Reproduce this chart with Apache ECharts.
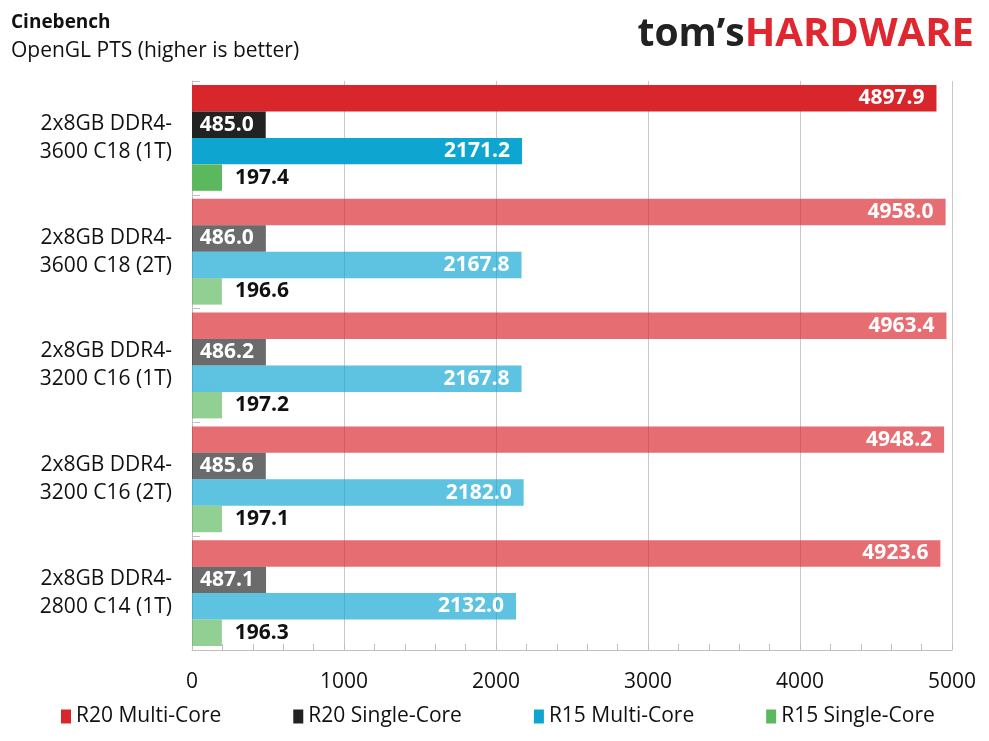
<!DOCTYPE html>
<html>
<head>
<meta charset="utf-8">
<script src="https://cdn.jsdelivr.net/npm/echarts@6/dist/echarts.min.js"></script>
<style>html,body{margin:0;padding:0;background:#fff}#c{width:989px;height:741px}</style>
</head>
<body>
<div id="c"></div>
<script>
const categories = [
  "2x8GB DDR4-\n3600 C18 (1T)",
  "2x8GB DDR4-\n3600 C18 (2T)",
  "2x8GB DDR4-\n3200 C16 (1T)",
  "2x8GB DDR4-\n3200 C16 (2T)",
  "2x8GB DDR4-\n2800 C14 (1T)"
];
const seriesNames = ["R20 Multi-Core", "R20 Single-Core", "R15 Multi-Core", "R15 Single-Core"];
const r20Multi = [4897.9, 4958.0, 4963.4, 4948.2, 4923.6];
const r20Single = [485.0, 486.0, 486.2, 485.6, 487.1];
const r15Multi = [2171.2, 2167.8, 2167.8, 2182.0, 2132.0];
const r15Single = [197.4, 196.6, 197.2, 197.1, 196.3];
const xTicks = [0, 1000, 2000, 3000, 4000, 5000];

const colors = ["#D9262B", "#222222", "#0EA5D1", "#5CB85C"];
const FONT = "Open Sans";

function mkData(arr) {
  return arr.map((v, i) => ({
    value: v,
    itemStyle: { opacity: i === 0 ? 1 : 0.67 },
    label: { opacity: 1 }
  }));
}
function mkSeries(name, arr, color, inside) {
  return {
    name: name,
    type: "bar",
    data: mkData(arr),
    barGap: "0%",
    barCategoryGap: "7%",
    itemStyle: { color: color },
    label: {
      show: true,
      opacity: 1,
      position: inside ? "insideRight" : "right",
      distance: inside ? 12 : 13,
      color: inside ? "#ffffff" : "#111111",
      fontFamily: FONT,
      fontWeight: "bold",
      fontSize: 21,
      formatter: p => p.value.toFixed(1)
    }
  };
}

const chart = echarts.init(document.getElementById("c"));
chart.setOption({
  backgroundColor: "#ffffff",
  animation: false,
  title: [
    {
      text: "Cinebench",
      subtext: "OpenGL PTS (higher is better)",
      left: 6, top: 8,
      itemGap: 9,
      textStyle: { fontFamily: FONT, fontWeight: "bold", fontSize: 19, color: "#111" },
      subtextStyle: { fontFamily: FONT, fontSize: 21, color: "#111" }
    },
    {
      text: "{a|tom’s}{b|HARDWARE}",
      right: 10, top: 10,
      textStyle: {
        rich: {
          a: { fontFamily: FONT, fontWeight: "bold", fontSize: 39, color: "#222222" },
          b: { fontFamily: FONT, fontWeight: "bold", fontSize: 40, color: "#E0262E" }
        }
      }
    }
  ],
  legend: {
    bottom: 9,
    left: 56,
    itemWidth: 10,
    itemHeight: 14,
    itemGap: 72,
    icon: "rect",
    textStyle: { fontFamily: FONT, fontSize: 21, color: "#111" },
    data: seriesNames
  },
  grid: { left: 192, right: 37, top: 81, bottom: 91, containLabel: false },
  xAxis: {
    type: "value",
    min: xTicks[0],
    max: xTicks[xTicks.length - 1],
    interval: 1000,
    axisLine: { show: true, lineStyle: { color: "#BFBFBF" } },
    axisTick: { show: true, inside: true, length: 6, lineStyle: { color: "#BFBFBF" } },
    minorTick: { show: true, splitNumber: 5, length: 6, lineStyle: { color: "#BFBFBF" } },
    splitLine: { show: true, lineStyle: { color: "#C8C8C8" } },
    axisLabel: { fontFamily: FONT, fontSize: 21, color: "#111", margin: 22, formatter: v => String(v) }
  },
  yAxis: {
    type: "category",
    inverse: true,
    data: categories,
    offset: 8,
    axisLine: { show: true, lineStyle: { color: "#BFBFBF" } },
    axisTick: { show: true, inside: true, length: 8, lineStyle: { color: "#BFBFBF" } },
    axisLabel: { fontFamily: FONT, fontSize: 21, color: "#111", margin: 12, lineHeight: 28 }
  },
  series: [
    mkSeries(seriesNames[0], r20Multi, colors[0], true),
    mkSeries(seriesNames[1], r20Single, colors[1], true),
    mkSeries(seriesNames[2], r15Multi, colors[2], true),
    mkSeries(seriesNames[3], r15Single, colors[3], false)
  ]
});
</script>
</body>
</html>
